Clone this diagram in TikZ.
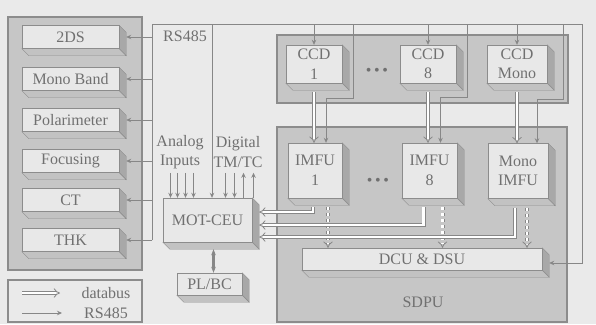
\documentclass[tikz,border=0pt]{standalone}
\usepackage{fontspec}
\setmainfont{Liberation Serif}
\usetikzlibrary{arrows.meta,positioning,calc}

\definecolor{bg}{HTML}{EAEAEA}
\definecolor{panelgray}{HTML}{C6C6C6}
\definecolor{face}{HTML}{E8E8E8}
\definecolor{sidegray}{HTML}{A8A8A8}
\definecolor{edge}{HTML}{8C8C8C}
\definecolor{wire}{HTML}{878787}
\definecolor{ink}{HTML}{707070}

\begin{document}
\begin{tikzpicture}[
  x=1pt, y=-1pt,
  >=Stealth,
  every node/.style={font=\fontsize{16}{19.5}\selectfont, text=ink},
  panel/.style={draw=edge, fill=panelgray, line width=1.2pt},
  unit/.style={draw=edge, fill=face, inner sep=0pt, align=center,
    append after command={\pgfextra{
      \filldraw[draw=edge, fill=sidegray]
        (\tikzlastnode.north east) -- ++(7,7)
        -- ([shift={(7,7)}]\tikzlastnode.south east)
        -- (\tikzlastnode.south east) -- cycle;
      \filldraw[draw=edge, fill=sidegray!60!face]
        (\tikzlastnode.south west) -- ++(7,7)
        -- ([shift={(7,7)}]\tikzlastnode.south east)
        -- (\tikzlastnode.south east) -- cycle;}}},
  rs/.style={draw=wire, line width=0.8pt, -{Stealth[length=5pt, width=4.5pt]}},
  bus/.style={draw=wire, line width=0.8pt, double=white,
              double distance=2.4pt, -{Implies[scale=1.3]}},
]
\useasboundingbox (0,0) rectangle (596,324);
\fill[bg] (0,0) rectangle (596,324);

% panels
\draw[panel] (8,17) rectangle (142,270);
\draw[panel, fill=bg] (8,280) rectangle (142,322);
\draw[panel] (277,35) rectangle (568,103);
\draw[panel] (277,127) rectangle (567,322);

% instruments on the left
\node[unit, minimum width=97, minimum height=23] (twods)    at (70.5,37)  {2DS};
\node[unit, minimum width=97, minimum height=23] (monoband) at (70.5,79)  {Mono Band};
\node[unit, minimum width=97, minimum height=23] (polar)    at (70.5,120) {Polarimeter};
\node[unit, minimum width=97, minimum height=23] (focus)    at (70.5,161) {Focusing};
\node[unit, minimum width=97, minimum height=23] (ct)       at (70.5,200) {CT};
\node[unit, minimum width=97, minimum height=23] (thk)      at (70.5,240) {THK};

% CCD row
\node[unit, minimum width=56, minimum height=38] (ccd1) at (314,64) {CCD\\1};
\node[unit, minimum width=56, minimum height=38] (ccd8) at (428,64) {CCD\\8};
\node[unit, minimum width=60, minimum height=38] (ccdm) at (517,64) {CCD\\Mono};
\node (dots1) at (377,72) {\textbullet\,\textbullet\,\textbullet};

% SDPU
\node[unit, minimum width=54, minimum height=55] (imfu1) at (315,170.5) {IMFU\\1};
\node[unit, minimum width=55, minimum height=55] (imfu8) at (429.5,170.5) {IMFU\\8};
\node[unit, minimum width=60, minimum height=55] (imfum) at (518,171) {Mono\\IMFU};
\node (dots2) at (378,182) {\textbullet\,\textbullet\,\textbullet};
\node[unit, minimum width=240, minimum height=22] (dcu) at (422,259) {DCU \& DSU};
\node (sdpu) at (423,302) {SDPU};

% central unit
\node[unit, minimum width=89, minimum height=44] (mot) at (207.5,220) {MOT-CEU};
\node[unit, minimum width=65, minimum height=22] (plbc) at (209.5,284) {PL/BC};
\draw[{Stealth[length=6pt]}-{Stealth[length=6pt]}, draw=wire, line width=2.2pt]
  ([shift={(6,7)}]mot.south) -- (plbc.north -| {$(mot.south)+(6,0)$});

% labels
\node (rslbl) at (185,36) {RS485};
\node[align=center] (analog) at (180,152) {Analog\\Inputs};
\node[align=center] (digital) at (238,152) {Digital\\TM/TC};

% RS485 bus
\coordinate (tl) at (152,24);
\coordinate (tr) at (582,24);
\draw[rs] (tl |- thk.east) -- (tl) -- (tr) |- ([shift={(7,4)}]dcu.east);
\draw[rs] (tl |- twods.east)    -- ([xshift=7pt]twods.east);
\draw[rs] (tl |- monoband.east) -- ([xshift=7pt]monoband.east);
\draw[rs] (tl |- polar.east)    -- ([xshift=7pt]polar.east);
\draw[rs] (tl |- focus.east)    -- ([xshift=7pt]focus.east);
\draw[rs] (tl |- ct.east)       -- ([xshift=7pt]ct.east);
\draw[rs] (tl |- thk.east)      -- ([xshift=7pt]thk.east);

\coordinate (tm) at (212,24);
\draw[rs] (tm) -- (tm |- mot.north);
\draw[rs] (ccd1.north |- tl) -- (ccd1.north);
\draw[rs] (ccd8.north |- tl) -- (ccd8.north);
\draw[rs] (ccdm.north |- tl) -- (ccdm.north);

\coordinate (t1) at (353,24);
\coordinate (t8) at (467,24);
\coordinate (tmo) at (563,24);
\draw[rs] (t1)  -- ++(0,74) -| ([xshift=11pt]imfu1.north);
\draw[rs] (t8)  -- ++(0,73) -| ([xshift=11pt]imfu8.north);
\draw[rs] (tmo) -- ++(0,75) -| ([xshift=19pt]imfum.north);

% analog and digital lines
\foreach \dx in {-37,-30,-22,-14,18,27}
  \draw[rs] ([shift={(\dx,-25)}]mot.north) -- ([shift={(\dx,0)}]mot.north);
\foreach \dx in {36,46}
  \draw[rs] ([shift={(\dx,0)}]mot.north) -- ([shift={(\dx,-25)}]mot.north);

% databus CCD -> IMFU
\draw[bus] ([shift={(0,9)}]ccd1.south) -- (ccd1.south |- imfu1.north);
\draw[bus] ([shift={(0,9)}]ccd8.south) -- (ccd8.south |- imfu8.north);
\draw[bus] ([shift={(0,9)}]ccdm.south) -- (ccdm.south |- imfum.north);

% IMFU -> DCU & DSU
\coordinate (d1) at ([shift={(13,9)}]imfu1.south);
\coordinate (d8) at ([shift={(13,9)}]imfu8.south);
\coordinate (dm) at ([shift={(9,9)}]imfum.south);
\draw[bus, dashed] (d1) -- (d1 |- dcu.north);
\draw[bus, dashed] (d8) -- (d8 |- dcu.north);
\draw[bus, dashed] (dm) -- (dm |- dcu.north);

% IMFU -> MOT-CEU
\draw[bus] ([shift={(-2,9)}]imfu1.south) |- ([shift={(7,-8)}]mot.east);
\draw[bus] ([shift={(-6,9)}]imfu8.south) |- ([shift={(7,5)}]mot.east);
\draw[bus] ([shift={(-3,9)}]imfum.south) |- ([shift={(7,17)}]mot.east);

% legend
\coordinate (lga) at (22,293);
\coordinate (lgb) at (22,313);
\node (lgbus) at (106,293) {databus};
\node (lgrs)  at (106,313) {RS485};
\draw[bus] (lga) -- ++(38,0);
\draw[rs]  (lgb) -- ++(40,0);
\end{tikzpicture}
\end{document}
